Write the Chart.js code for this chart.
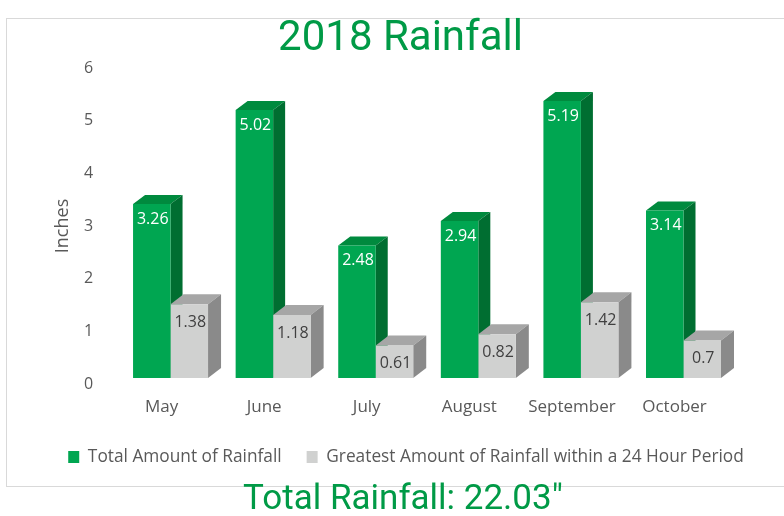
<!DOCTYPE html>
<html>
<head>
<meta charset="utf-8">
<script src="https://cdn.jsdelivr.net/npm/chart.js@4/dist/chart.umd.min.js"></script>
<style>
  html, body { margin: 0; padding: 0; background: #ffffff; }
  #wrap { width: 784px; height: 516px; }
</style>
</head>
<body>
<div id="wrap"><canvas id="c" width="784" height="516"></canvas></div>
<script>
// ---- data ----
const categories = ['May', 'June', 'July', 'August', 'September', 'October'];
const totalRainfall = [3.26, 5.02, 2.48, 2.94, 5.19, 3.14];
const maxDayRainfall = [1.38, 1.18, 0.61, 0.82, 1.42, 0.7];
const yTickValues = [0, 1, 2, 3, 4, 5, 6];
const seriesNames = ['Total Amount of Rainfall', 'Greatest Amount of Rainfall within a 24 Hour Period'];
const chartTitle = '2018 Rainfall';
const footerTitle = 'Total Rainfall: 22.03\u2033';
const axisTitle = 'Inches';

// ---- styles ----
const GREEN = '#00a651', GREEN_TOP = '#008a3e', GREEN_SIDE = '#006e31';
const GRAY = '#d0d1d0', GRAY_TOP = '#a6a6a6', GRAY_SIDE = '#8a8a8a';
const TITLE_GREEN = '#009a46';
const TEXT = '#595959';
const LEGEND_PAD = 25, LEGEND_FONT = 17.3;

const faces = [
  { dx: 12, dy: 9, top: GREEN_TOP, side: GREEN_SIDE, label: '#ffffff', ly: 15 },
  { dx: 13, dy: 10, top: GRAY_TOP, side: GRAY_SIDE, label: '#404040', ly: 18 }
];

const framePlugin = {
  id: 'frame',
  beforeDraw(chart) {
    const ctx = chart.ctx;
    ctx.save();
    ctx.strokeStyle = '#d9d9d9';
    ctx.lineWidth = 1;
    ctx.strokeRect(6.5, 18.5, 800, 468);
    ctx.restore();
  }
};

const shiftPlugin = {
  id: 'shift',
  afterLayout(chart) {
    const mv = (box, dx, dy) => {
      if (!box) return;
      box.left += dx; box.right += dx; box.top += dy; box.bottom += dy;
    };
    const mid = (box) => (box.left + box.right) / 2;
    if (chart.legend) {
      const lg = chart.legend;
      mv(lg, 406 - mid(lg), 457 - (lg.top + LEGEND_PAD + LEGEND_FONT / 2));
    }
    if (chart.titleBlock) mv(chart.titleBlock, 400.5 - mid(chart.titleBlock), 1);
    const sub = chart.boxes.find(b => b !== chart.titleBlock && b.options && b.options.text === footerTitle);
    if (sub) mv(sub, 403 - mid(sub), 0);
  }
};

const depthPlugin = {
  id: 'depth3d',
  beforeDatasetsDraw(chart) {
    const ctx = chart.ctx;
    ctx.save();
    for (let i = 0; i < categories.length; i++) {
      for (let d = 0; d < 2; d++) {
        const el = chart.getDatasetMeta(d).data[i];
        if (!el) continue;
        const { x, y, base, width } = el.getProps(['x', 'y', 'base', 'width'], true);
        const f = faces[d];
        const l = x - width / 2, r = x + width / 2;
        ctx.fillStyle = f.top;
        ctx.beginPath();
        ctx.moveTo(l, y);
        ctx.lineTo(l + f.dx, y - f.dy);
        ctx.lineTo(r + f.dx, y - f.dy);
        ctx.lineTo(r, y);
        ctx.closePath();
        ctx.fill();
        ctx.fillStyle = f.side;
        ctx.beginPath();
        ctx.moveTo(r, y);
        ctx.lineTo(r + f.dx, y - f.dy);
        ctx.lineTo(r + f.dx, base - f.dy);
        ctx.lineTo(r, base);
        ctx.closePath();
        ctx.fill();
      }
    }
    ctx.restore();
  },
  afterDatasetsDraw(chart) {
    const ctx = chart.ctx;
    ctx.save();
    ctx.font = '16px "Open Sans"';
    ctx.textAlign = 'center';
    ctx.textBaseline = 'middle';
    chart.data.datasets.forEach((ds, d) => {
      const meta = chart.getDatasetMeta(d);
      meta.data.forEach((el, i) => {
        const { x, y } = el.getProps(['x', 'y'], true);
        ctx.fillStyle = faces[d].label;
        ctx.fillText(String(ds.data[i]), x + 1, y + faces[d].ly);
      });
    });
    ctx.restore();
  }
};

Chart.defaults.font.family = '"Open Sans", "DejaVu Sans", sans-serif';
Chart.defaults.color = TEXT;

new Chart(document.getElementById('c'), {
  type: 'bar',
  data: {
    labels: categories,
    datasets: [
      { label: seriesNames[0], data: totalRainfall, backgroundColor: GREEN, yAxisID: 'yb', borderWidth: 0 },
      { label: seriesNames[1], data: maxDayRainfall, backgroundColor: GRAY, yAxisID: 'yb', borderWidth: 0 }
    ]
  },
  options: {
    responsive: false,
    animation: false,
    devicePixelRatio: 1,
    categoryPercentage: 0.731,
    barPercentage: 1.0,
    layout: { padding: { left: 0, right: 49.2, top: 0, bottom: 0 } },
    scales: {
      x: {
        grid: { display: false, drawTicks: false },
        border: { display: false },
        ticks: { font: { size: 17 }, color: TEXT, padding: 12.8, labelOffset: -9 }
      },
      y: {
        type: 'linear',
        position: 'left',
        min: 0,
        max: 6,
        afterBuildTicks: s => { s.ticks = yTickValues.map(v => ({ value: v })); },
        grid: { display: false, drawTicks: false },
        border: { display: false },
        ticks: { font: { size: 16 }, color: TEXT, padding: 26.2 },
        title: { display: true, text: axisTitle, font: { size: 18 }, color: TEXT, padding: { top: 51.7, bottom: -15.6 } }
      },
      yb: {
        type: 'linear',
        position: 'left',
        display: false,
        min: -0.113,
        max: 5.808
      }
    },
    plugins: {
      title: {
        display: true,
        text: chartTitle,
        color: TITLE_GREEN,
        font: { family: 'Roboto', size: 42, weight: 'normal', lineHeight: 1.2 },
        padding: { top: 13, bottom: 4.6 }
      },
      subtitle: {
        display: true,
        position: 'bottom',
        text: footerTitle,
        color: TITLE_GREEN,
        font: { family: 'Roboto', size: 35, weight: 'normal', lineHeight: 0.9 },
        padding: { top: 2.2, bottom: 0 }
      },
      legend: {
        position: 'bottom',
        labels: { boxWidth: 11, boxHeight: 12, padding: LEGEND_PAD, font: { size: LEGEND_FONT }, color: TEXT }
      },
      tooltip: { enabled: false }
    }
  },
  plugins: [framePlugin, shiftPlugin, depthPlugin]
});
</script>
</body>
</html>
